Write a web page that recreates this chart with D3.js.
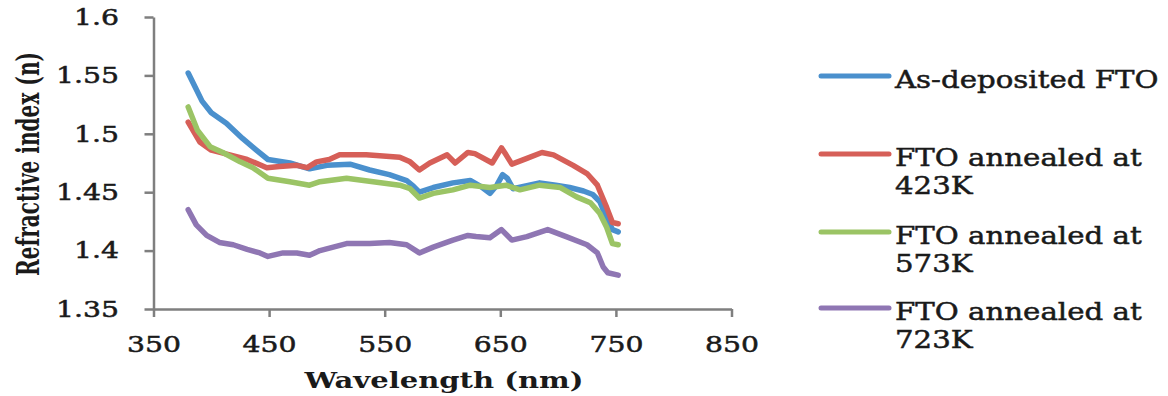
<!DOCTYPE html>
<html>
<head>
<meta charset="utf-8">
<script src="https://cdn.jsdelivr.net/npm/d3@7"></script>
<style>
  body { margin: 0; background: #fff; }
  .axis path, .axis line { stroke: #7f7f7f; stroke-width: 2.5; }
  .axis text { font-family: "DejaVu Serif", serif; font-size: 23px; fill: #1a1a1a; stroke: #1a1a1a; stroke-width: 0.5; }
  .line { fill: none; stroke-width: 5.5; stroke-linejoin: round; stroke-linecap: round; }
  .legend text { font-family: "DejaVu Serif", serif; font-size: 25px; fill: #1a1a1a; stroke: #1a1a1a; stroke-width: 0.5; }
</style>
</head>
<body>
<svg id="chart" width="1168" height="396"></svg>
<script>
// wavelength (nm), refractive index pairs
var asDeposited = [[380,1.552],[386,1.540],[392,1.528],[400,1.518],[413,1.509],[427,1.496],[439,1.486],[449,1.478],[468,1.475],[485,1.470],[500,1.473],[520,1.474],[537,1.469],[554,1.465],[569,1.460],[575,1.455],[580,1.450],[592,1.454],[609,1.458],[624,1.460],[633,1.455],[641,1.449],[647,1.456],[652,1.465],[656,1.462],[661,1.453],[670,1.455],[684,1.458],[698,1.456],[710,1.454],[722,1.451],[730,1.448],[736,1.442],[742,1.428],[747,1.418],[752,1.416]];
var annealed423 = [[380,1.510],[390,1.493],[400,1.486],[416,1.482],[431,1.478],[448,1.471],[459,1.472],[474,1.473],[483,1.471],[491,1.476],[502,1.478],[511,1.482],[534,1.482],[563,1.480],[572,1.476],[580,1.469],[589,1.475],[604,1.482],[611,1.475],[622,1.484],[628,1.483],[643,1.475],[651,1.488],[655,1.482],[660,1.474],[673,1.479],[686,1.484],[696,1.482],[713,1.473],[725,1.466],[734,1.456],[742,1.437],[747,1.424],[752,1.423]];
var annealed573 = [[380,1.523],[388,1.503],[399,1.489],[410,1.484],[425,1.476],[436,1.471],[449,1.462],[468,1.459],[485,1.456],[494,1.459],[517,1.462],[540,1.459],[563,1.456],[572,1.453],[580,1.445],[592,1.449],[609,1.452],[624,1.456],[641,1.454],[655,1.456],[667,1.452],[684,1.456],[702,1.454],[716,1.446],[728,1.441],[736,1.432],[742,1.420],[747,1.406],[752,1.405]];
var annealed723 = [[380,1.435],[387,1.422],[396,1.413],[407,1.407],[419,1.405],[431,1.401],[442,1.398],[449,1.395],[462,1.398],[474,1.398],[485,1.396],[494,1.400],[517,1.406],[537,1.406],[554,1.407],[569,1.405],[580,1.398],[592,1.403],[609,1.409],[622,1.413],[629,1.412],[641,1.411],[651,1.418],[660,1.409],[673,1.412],[691,1.418],[707,1.412],[725,1.405],[734,1.398],[739,1.386],[743,1.381],[752,1.379]];

var legendLines = [["As-deposited FTO"], ["FTO annealed at", "423K"], ["FTO annealed at", "573K"], ["FTO annealed at", "723K"]];
var seriesColors = ["#4a90cd", "#d65f58", "#9bc465", "#8f76b3"];
var xTicks = [350, 450, 550, 650, 750, 850];
var yTicks = [1.35, 1.4, 1.45, 1.5, 1.55, 1.6];

var series = [asDeposited, annealed423, annealed573, annealed723];

var svg = d3.select("#chart"),
    plotLeft = 153.5, plotRight = 731.5, plotTop = 17, plotBottom = 309;

var x = d3.scaleLinear().domain([350, 850]).range([plotLeft, plotRight]);
var y = d3.scaleLinear().domain([1.35, 1.6]).range([plotBottom, plotTop]);

var line = d3.line()
    .x(function(d) { return x(d[0]); })
    .y(function(d) { return y(d[1]); });

// axes
var xAxis = svg.append("g")
    .attr("class", "axis")
    .attr("transform", "translate(0," + plotBottom + ")")
    .call(d3.axisBottom(x).tickValues(xTicks).tickSize(8).tickSizeOuter(0).tickFormat(d3.format("d")));
xAxis.selectAll("text")
    .attr("y", 43).attr("dy", 0)
    .attr("transform", "scale(1.23,1)");

var yAxis = svg.append("g")
    .attr("class", "axis")
    .attr("transform", "translate(" + plotLeft + ",0)")
    .call(d3.axisLeft(y).tickValues(yTicks).tickSize(9).tickSizeOuter(0).tickFormat(function(d) { return String(+d.toFixed(2)); }));
yAxis.selectAll("text")
    .attr("x", -34.5 / 1.23)
    .attr("transform", "scale(1.23,1)");

// series
series.forEach(function(s, i) {
  svg.append("path")
      .datum(s)
      .attr("class", "line")
      .attr("stroke", seriesColors[i])
      .attr("d", line);
});

// axis titles
svg.append("text")
    .attr("transform", "translate(444,388) scale(1.32,1)")
    .attr("text-anchor", "middle")
    .style("font-family", "'DejaVu Serif', serif")
    .style("font-weight", "bold")
    .style("font-size", "22px")
    .attr("fill", "#1a1a1a")
    .text("Wavelength (nm)");

svg.append("text")
    .attr("transform", "translate(39,164) scale(1.4,1) rotate(-90)")
    .attr("text-anchor", "middle")
    .attr("textLength", 224)
    .attr("lengthAdjust", "spacingAndGlyphs")
    .style("font-family", "'DejaVu Serif', serif")
    .style("font-weight", "bold")
    .style("font-size", "22px")
    .attr("fill", "#1a1a1a")
    .text("Refractive index (n)");

// legend
var legendY = [76, 154, 232, 308];
var legend = svg.append("g").attr("class", "legend");
legendLines.forEach(function(lines, i) {
  var g = legend.append("g").attr("transform", "translate(0," + legendY[i] + ")");
  g.append("line")
      .attr("x1", 821).attr("x2", 889)
      .attr("stroke", seriesColors[i])
      .attr("stroke-width", 5)
      .attr("stroke-linecap", "round");
  lines.forEach(function(t, j) {
    g.append("text")
        .attr("transform", "translate(895," + (11.5 + j * 28) + ") scale(1.17,1)")
        .text(t);
  });
});
</script>
</body>
</html>
